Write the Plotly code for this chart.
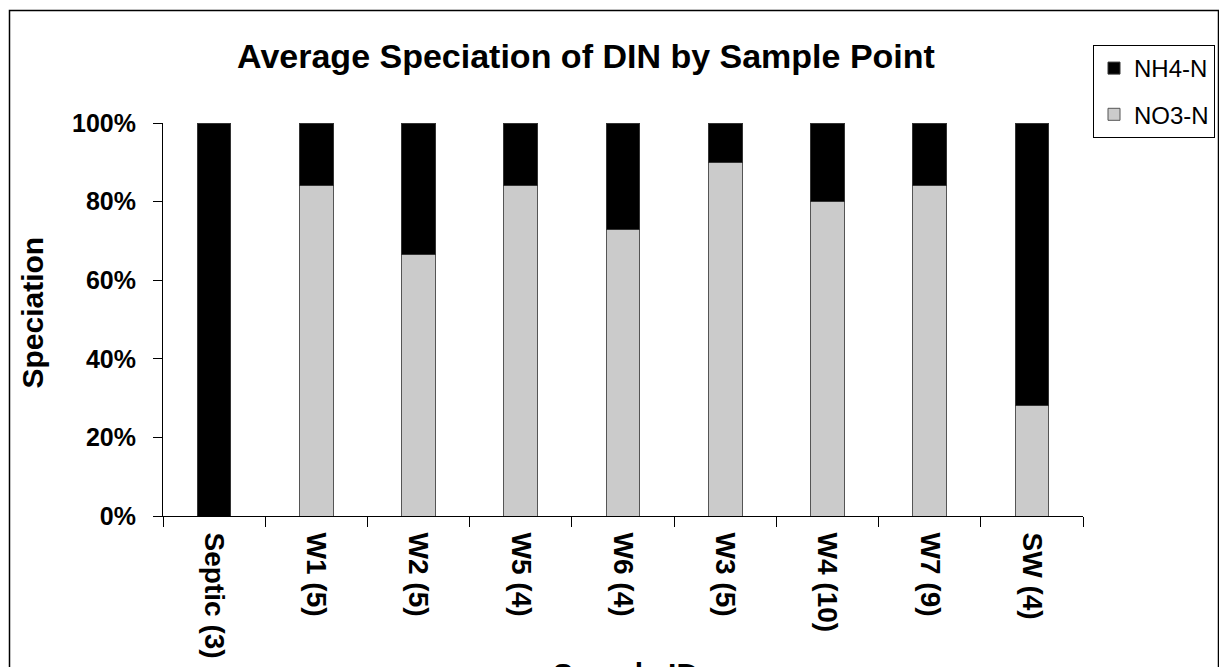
import plotly.graph_objects as go

categories = ["Septic (3)", "W1 (5)", "W2 (5)", "W5 (4)", "W6 (4)", "W3 (5)", "W4 (10)", "W7 (9)", "SW (4)"]
no3_n = [0.00, 0.84, 0.665, 0.84, 0.73, 0.90, 0.80, 0.84, 0.28]
nh4_n = [1.00, 0.16, 0.335, 0.16, 0.27, 0.10, 0.20, 0.16, 0.72]
y_ticks = [0, 0.2, 0.4, 0.6, 0.8, 1.0]

FONT = "Arial, 'Liberation Sans', sans-serif"

W, H = 1219, 667
L, R, T, B = 163, 136, 123, 151
pw, ph = W - L - R, H - T - B

def px_x(x):
    return (x - L) / pw

def px_y(y):
    return (H - B - y) / ph

fig = go.Figure()
fig.add_trace(go.Bar(
    x=categories, y=no3_n, name="NO3-N",
    marker=dict(color="#cbcbcb", line=dict(color="#555555", width=1)),
    legendgroup="no3", legendrank=2,
))
fig.add_trace(go.Bar(
    x=categories, y=nh4_n, name="NH4-N",
    marker=dict(color="#000000", line=dict(color="#333333", width=1)),
    legendgroup="nh4", legendrank=1,
))

fig.update_layout(
    width=W, height=H,
    margin=dict(l=L, r=R, t=T, b=B, autoexpand=False),
    barmode="stack",
    bargap=0.67,
    paper_bgcolor="white",
    plot_bgcolor="white",
    font=dict(family=FONT, color="black"),
    showlegend=True,
    legend=dict(
        x=px_x(1093), y=px_y(45), xanchor="left", yanchor="top",
        traceorder="grouped", tracegroupgap=12,
        bordercolor="black", borderwidth=1, bgcolor="white",
        font=dict(family=FONT, size=24, color="black"),
    ),
    title=dict(
        text="Average Speciation of DIN by Sample Point",
        x=586 / W, xanchor="center", y=1 - 56 / H, yanchor="middle",
        font=dict(family=FONT, size=34, color="black", weight="bold"),
    ),
    xaxis=dict(
        type="category",
        showline=True, linecolor="black", linewidth=1,
        ticks="outside", tickson="boundaries", ticklen=10, tickcolor="black",
        tickangle=90, ticklabelstandoff=10,
        tickfont=dict(family=FONT, size=28, color="black", weight="bold"),
        showgrid=False, zeroline=False,
    ),
    yaxis=dict(
        range=[0, 1],
        tickvals=y_ticks, tickformat=".0%",
        showline=True, linecolor="black", linewidth=1,
        ticks="outside", ticklen=9, tickcolor="black", ticklabelstandoff=12,
        tickfont=dict(family=FONT, size=25, color="black", weight="bold"),
        showgrid=False, zeroline=False,
    ),
    annotations=[
        dict(text="Speciation", textangle=-90, xref="paper", yref="paper",
             x=px_x(31.5), y=px_y(313), xanchor="center", yanchor="middle",
             showarrow=False,
             font=dict(family=FONT, size=30, color="black", weight="bold")),
        dict(text="Sample ID", xref="paper", yref="paper",
             x=px_x(625), y=px_y(655), xanchor="center", yanchor="top",
             showarrow=False,
             font=dict(family=FONT, size=30, color="black", weight="bold")),
    ],
    shapes=[
        dict(type="rect", xref="paper", yref="paper",
             x0=px_x(9.5), x1=px_x(1218.5), y0=px_y(720), y1=px_y(10.5),
             line=dict(color="black", width=1.5), fillcolor="rgba(0,0,0,0)",
             layer="below"),
    ],
)

fig.write_html("out.html")
